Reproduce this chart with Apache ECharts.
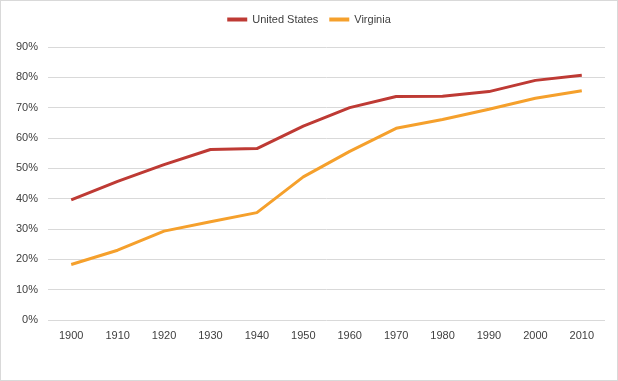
<!DOCTYPE html>
<html><head><meta charset="utf-8">
<script src="https://cdn.jsdelivr.net/npm/echarts@6/dist/echarts.min.js"></script>
<style>
html,body{margin:0;padding:0;background:#fff;}
#c{width:616px;height:379px;border:1px solid #d9d9d9;}
</style></head>
<body><div id="c"></div>
<script>
const years = ['1900','1910','1920','1930','1940','1950','1960','1970','1980','1990','2000','2010'];
const unitedStates = [39.6, 45.7, 51.2, 56.2, 56.5, 63.9, 70.0, 73.7, 73.8, 75.3, 79.0, 80.7];
const virginia = [18.3, 23.0, 29.3, 32.4, 35.4, 47.2, 55.6, 63.2, 66.1, 69.5, 73.1, 75.6];
const seriesNames = ['United States', 'Virginia'];
const yTicks = [0, 10, 20, 30, 40, 50, 60, 70, 80, 90];

const chart = echarts.init(document.getElementById('c'));
const font = 'Liberation Sans, Arial, sans-serif';
chart.setOption({
  animation: false,
  legend: {
    top: 8, left: 'center', itemWidth: 20, itemHeight: 4, itemGap: 11,
    icon: 'rect',
    textStyle: {fontFamily: font, fontSize: 11, color: '#404040'},
    data: seriesNames
  },
  grid: {left: 47, right: 12, top: 46, bottom: 60},
  xAxis: {
    type: 'category', data: years, boundaryGap: true,
    axisLine: {show: false}, axisTick: {show: false},
    axisLabel: {fontFamily: font, fontSize: 11, color: '#404040', margin: 10}
  },
  yAxis: {
    type: 'value', min: yTicks[0], max: yTicks[yTicks.length-1], interval: 10,
    axisLine: {show: false}, axisTick: {show: false},
    axisLabel: {fontFamily: font, fontSize: 11, color: '#404040', margin: 10, formatter: v => v + '%'},
    splitLine: {lineStyle: {color: '#d9d9d9', width: 1}}
  },
  series: [
    {name: seriesNames[0], type: 'line', data: unitedStates, symbol: 'none',
     lineStyle: {color: '#BE3A34', width: 3}, itemStyle: {color: '#BE3A34'}},
    {name: seriesNames[1], type: 'line', data: virginia, symbol: 'none',
     lineStyle: {color: '#F5A02C', width: 3}, itemStyle: {color: '#F5A02C'}}
  ]
});
</script></body></html>
